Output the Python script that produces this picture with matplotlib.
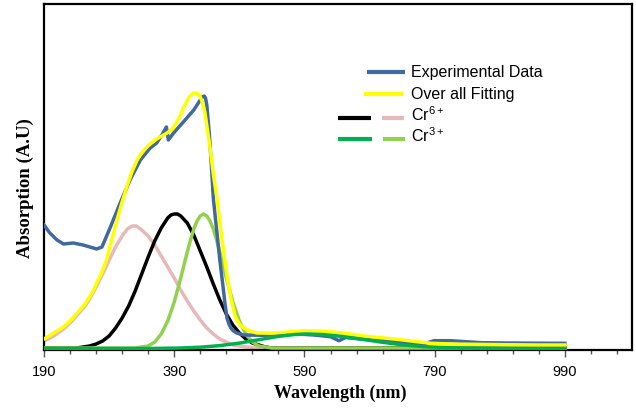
import numpy as np
import matplotlib
matplotlib.use("Agg")
import matplotlib.pyplot as plt
from matplotlib.lines import Line2D
from matplotlib.ticker import FixedLocator

# experimental spectrum
exp_wl = [190, 199, 210, 220, 235, 250, 271, 279, 292, 307, 322, 338, 353, 363,
          371, 378, 381, 389, 404, 420, 430, 433, 436, 438, 440, 444, 447, 450,
          453, 456, 460, 465, 468, 471, 474, 477, 481, 486, 497, 527, 555, 579,
          605, 630, 643, 653, 681, 732, 773, 789, 814, 862, 900, 950, 990]
exp_abs = [1.25, 1.17, 1.10, 1.06, 1.07, 1.05, 1.01, 1.03, 1.23, 1.47, 1.70, 1.90,
           2.02, 2.07, 2.15, 2.23, 2.10, 2.17, 2.28, 2.40, 2.50, 2.53, 2.54, 2.52,
           2.45, 2.15, 1.85, 1.52, 1.33, 1.15, 0.90, 0.63, 0.46, 0.32, 0.26, 0.22,
           0.19, 0.17, 0.15, 0.147, 0.155, 0.16, 0.15, 0.133, 0.093, 0.125, 0.107,
           0.083, 0.06, 0.093, 0.093, 0.073, 0.07, 0.068, 0.067]

# overall fitting
fit_wl = [190, 205, 220, 233, 245, 253, 260, 266, 271, 279, 286, 294, 302, 310,
          317, 325, 333, 340, 348, 355, 363, 371, 379, 387, 394, 399, 404, 408,
          412, 416, 420, 424, 427, 430, 433, 437, 440, 445, 450, 456, 462, 467,
          472, 477, 481, 484, 490, 497, 507, 517, 540, 565, 590, 610, 630, 655,
          681, 707, 732, 758, 784, 814, 850, 900, 950, 990]
fit_abs = [0.11, 0.17, 0.23, 0.31, 0.40, 0.46, 0.53, 0.60, 0.67, 0.78, 0.90, 1.10,
           1.30, 1.48, 1.63, 1.78, 1.90, 1.97, 2.03, 2.07, 2.11, 2.14, 2.17, 2.21,
           2.28, 2.34, 2.42, 2.47, 2.52, 2.55, 2.57, 2.57, 2.56, 2.53, 2.48, 2.38,
           2.25, 2.02, 1.76, 1.50, 1.17, 0.93, 0.70, 0.52, 0.41, 0.33, 0.26, 0.22,
           0.19, 0.17, 0.168, 0.18, 0.193, 0.19, 0.183, 0.165, 0.14, 0.123, 0.107,
           0.087, 0.067, 0.06, 0.057, 0.053, 0.05, 0.05]

# Cr6+ components
pink_wl = [190, 205, 220, 233, 245, 253, 260, 266, 271, 280, 290, 300, 310, 318,
           325, 332, 340, 350, 360, 370, 380, 390, 400, 410, 420, 430, 440, 450,
           460, 470, 480, 490, 500, 520, 550, 990]
pink_abs = [0.09, 0.14, 0.21, 0.29, 0.38, 0.44, 0.51, 0.58, 0.64, 0.76, 0.90, 1.03,
            1.14, 1.21, 1.24, 1.24, 1.20, 1.14, 1.05, 0.94, 0.83, 0.72, 0.60, 0.49,
            0.39, 0.30, 0.22, 0.16, 0.11, 0.08, 0.05, 0.04, 0.03, 0.02, 0.02, 0.02]

black_wl = [190, 230, 240, 250, 260, 270, 280, 290, 300, 310, 320, 330, 340, 350,
            360, 370, 380, 385, 390, 395, 400, 410, 420, 430, 440, 450, 460, 470,
            480, 490, 500, 510, 520, 530, 540, 560, 990]
black_abs = [0.02, 0.02, 0.02, 0.03, 0.04, 0.06, 0.09, 0.14, 0.22, 0.32, 0.44, 0.59,
             0.76, 0.93, 1.09, 1.22, 1.32, 1.35, 1.36, 1.36, 1.34, 1.27, 1.15, 0.99,
             0.83, 0.66, 0.50, 0.36, 0.25, 0.17, 0.11, 0.07, 0.05, 0.03, 0.02, 0.02,
             0.02]

# Cr3+ components
lgreen_wl = [190, 330, 340, 350, 360, 370, 380, 390, 400, 410, 415, 420, 425, 430,
             435, 440, 445, 450, 455, 460, 470, 480, 490, 500, 510, 520, 530, 540,
             990]
lgreen_abs = [0.02, 0.02, 0.03, 0.04, 0.08, 0.16, 0.29, 0.48, 0.72, 0.98, 1.10,
              1.21, 1.29, 1.34, 1.36, 1.34, 1.29, 1.21, 1.10, 0.98, 0.72, 0.48, 0.29,
              0.16, 0.08, 0.04, 0.03, 0.02, 0.02]

dgreen_wl = [190, 350, 400, 430, 460, 490, 520, 550, 575, 595, 620, 650, 680, 710,
             740, 770, 800, 840, 900, 990]
dgreen_abs = [0.015, 0.015, 0.02, 0.028, 0.044, 0.069, 0.103, 0.136, 0.155, 0.16,
              0.154, 0.134, 0.106, 0.077, 0.052, 0.035, 0.025, 0.018, 0.015, 0.015]

tick_labels = [190, 390, 590, 790, 990]

W, H = 636, 413
plt.rcParams['mathtext.fontset'] = 'custom'
plt.rcParams['mathtext.rm'] = 'Liberation Sans'
plt.rcParams['lines.solid_joinstyle'] = 'round'

fig = plt.figure(figsize=(W / 100, H / 100), dpi=100)
ax = fig.add_axes([44 / W, 1 - 350 / H, 588 / W, 346 / H])

lw = 2.5
ax.plot(pink_wl, pink_abs, color="#E6B9B8", lw=lw, zorder=2)
ax.plot(black_wl, black_abs, color="black", lw=lw, zorder=3)
ax.plot(lgreen_wl, lgreen_abs, color="#92D050", lw=lw, zorder=4)
ax.plot(exp_wl, exp_abs, color="#41689F", lw=lw, zorder=5)
ax.plot(fit_wl, fit_abs, color="#FFFF00", lw=lw, zorder=6)
ax.plot(dgreen_wl, dgreen_abs, color="#00B050", lw=lw, zorder=7)

ax.set_xlim(190, 1093)
ax.set_ylim(0, 3.46)
ax.xaxis.set_major_locator(FixedLocator(tick_labels))
ax.xaxis.set_minor_locator(FixedLocator(np.arange(190, 1091, 40)))
ax.set_xticklabels([str(t) for t in tick_labels], family="Liberation Sans",
                   fontsize=10.5)
ax.tick_params(axis="x", which="major", length=5, width=1, color="#555555",
               pad=6)
ax.tick_params(axis="x", which="minor", length=3, width=1, color="#555555")
ax.set_yticks([])
for s in ax.spines.values():
    s.set_linewidth(1.6)
    s.set_color("black")

fig.text(340 / W, 1 - 393 / H, "Wavelength (nm)", family="Liberation Serif",
         weight="bold", fontsize=13, ha="center", va="center")
fig.text(25 / W, 1 - 188 / H, "Absorption (A.U)", family="Liberation Serif",
         weight="bold", fontsize=13.5, ha="center", va="center", rotation=90)


def legend_line(x0, x1, y, color):
    fig.add_artist(Line2D([x0 / W, x1 / W], [1 - y / H, 1 - y / H],
                          color=color, lw=3, solid_capstyle="butt"))


def legend_text(y, s):
    fig.text(410.7 / W, 1 - y / H, s, family="Liberation Sans", fontsize=11.5,
             va="baseline", ha="left")


legend_line(366.7, 405, 71.7, "#41689F")
legend_text(76.7, "Experimental Data")
legend_line(364, 403.3, 94.3, "#FFFF00")
legend_text(99.3, "Over all Fitting")
legend_line(338, 370.7, 117.7, "black")
legend_line(381.7, 404.3, 117.7, "#E6B9B8")
legend_text(120.7, r"Cr$^{\mathregular{6+}}$")
legend_line(338, 371.7, 139, "#00B050")
legend_line(383.3, 405, 139, "#92D050")
legend_text(141.7, r"Cr$^{\mathregular{3+}}$")

fig.savefig("out.png", dpi=100)
